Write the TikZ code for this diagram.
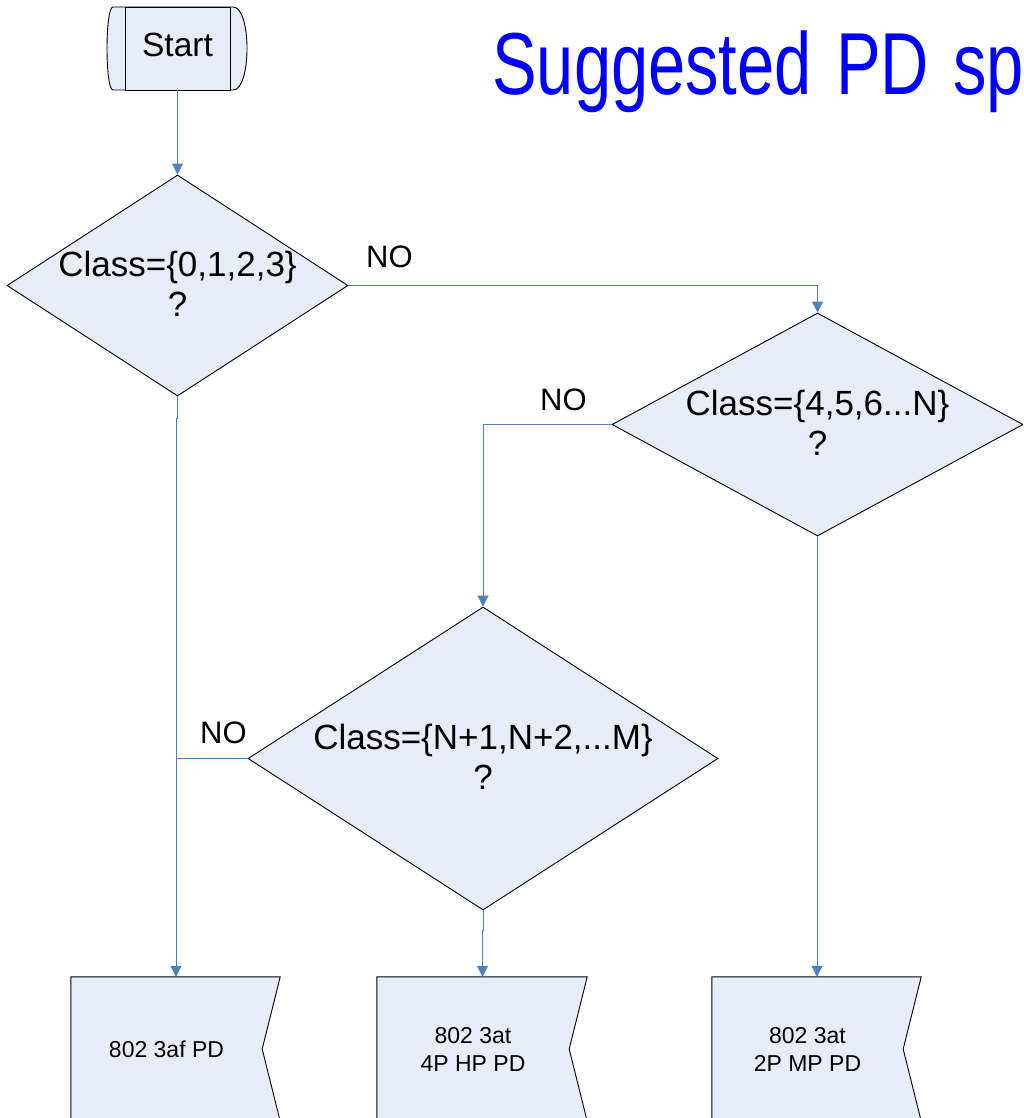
\documentclass[tikz,border=0pt]{standalone}
\usepackage{fontspec}
\setmainfont{Liberation Sans}
\usetikzlibrary{arrows.meta,shapes.geometric,calc,backgrounds}
\definecolor{fillc}{RGB}{231,236,247}
\definecolor{linec}{RGB}{79,129,189}
\definecolor{titlec}{RGB}{0,0,255}
\begin{document}
\begin{tikzpicture}[x=1pt,y=-1pt,
  shapeline/.style={draw=black, line width=0.9pt, fill=fillc},
  decision/.style={diamond, shapeline, inner sep=0pt},
  dtext/.style={inner sep=0pt, align=center, font=\fontsize{35}{40}\selectfont},
  boxnode/.style={rectangle, inner sep=0pt, align=center, font=\fontsize{23}{28}\selectfont},
  nolabel/.style={inner sep=0pt, anchor=base west, font=\fontsize{31}{36}\selectfont},
  conn/.style={draw=linec, line width=1pt},
  arr/.style={conn, -{Triangle[width=11pt,length=11pt]}}]
\useasboundingbox (0,0) rectangle (1023,1118);
\clip (0,0) rectangle (1023,1118);

% title
\node[anchor=base west, text=titlec, inner sep=0pt] (title) at (492,95)
  {\scalebox{0.76}[1]{\fontsize{88}{100}\selectfont Suggested\hspace{0.36em}PD\hspace{0.36em}sp}};

% start terminator
\draw[shapeline] (113,7) -- (233,7) .. controls (251.7,7) and (251.7,90) .. (233,90)
  -- (113,90) .. controls (105,90) and (105,7) .. cycle;
\node[shapeline, rectangle, inner sep=0pt, minimum width=105pt, minimum height=83pt,
  text depth=7pt, font=\fontsize{33.5}{38}\selectfont] (start) at (177.5,48.5) {Start};

% decisions
\node[decision, minimum width=341pt, minimum height=221pt] (d1) at (177.5,285.5) {};
\node[dtext] (t1) at ([yshift=2pt]d1.center) {Class=\{0,1,2,3\}\\?};
\node[decision, minimum width=411pt, minimum height=223pt] (d2) at (817.5,424.5) {};
\node[dtext] (t2) at ([yshift=2pt]d2.center) {Class=\{4,5,6...N\}\\?};
\node[decision, minimum width=470pt, minimum height=303pt] (d3) at (483,758.5) {};
\node[dtext] (t3) at ([yshift=2pt]d3.center) {Class=\{N+1,N+2,...M\}\\?};

% result boxes
\node[boxnode, minimum width=191pt, minimum height=144pt] (b1) at (166.5,1049) {802 3af PD};
\node[boxnode, minimum width=192pt, minimum height=144pt] (b2) at (473,1049) {802 3at\\4P HP PD};
\node[boxnode, minimum width=191pt, minimum height=144pt] (b3) at (807.5,1049) {802 3at\\2P MP PD};
\begin{pgfonlayer}{background}
\foreach \b in {b1,b2,b3}{
  \draw[shapeline] (\b.north west) -- ([xshift=18pt]\b.north east) -- (\b.east)
    -- ([xshift=18pt]\b.south east) -- (\b.south west) -- cycle;
}
\end{pgfonlayer}
\coordinate (b1in) at ([xshift=9.5pt]b1.north);
\coordinate (b2in) at ([xshift=9.5pt]b2.north);
\coordinate (b3in) at ([xshift=9.5pt]b3.north);

% NO labels
\node[nolabel] (no1) at (366,267) {NO};
\node[nolabel] (no2) at (540,410) {NO};
\node[nolabel] (no3) at (200,743) {NO};

% connectors
\draw[arr] (start.south) -- (d1.north);
\draw[arr] (d1.east) -| (d2.north);
\draw[arr] (d2.west) -| (d3.north);
\draw[arr] (d1.south) -- ++(0,22) -| (b1in);
\draw[conn] (d3.west) -- (d3.west -| b1in);
\draw[arr] (d3.south) -- ++(0,20) -| (b2in);
\draw[arr] (d2.south) -- ++(0,20) -| (b3in);
\end{tikzpicture}
\end{document}
